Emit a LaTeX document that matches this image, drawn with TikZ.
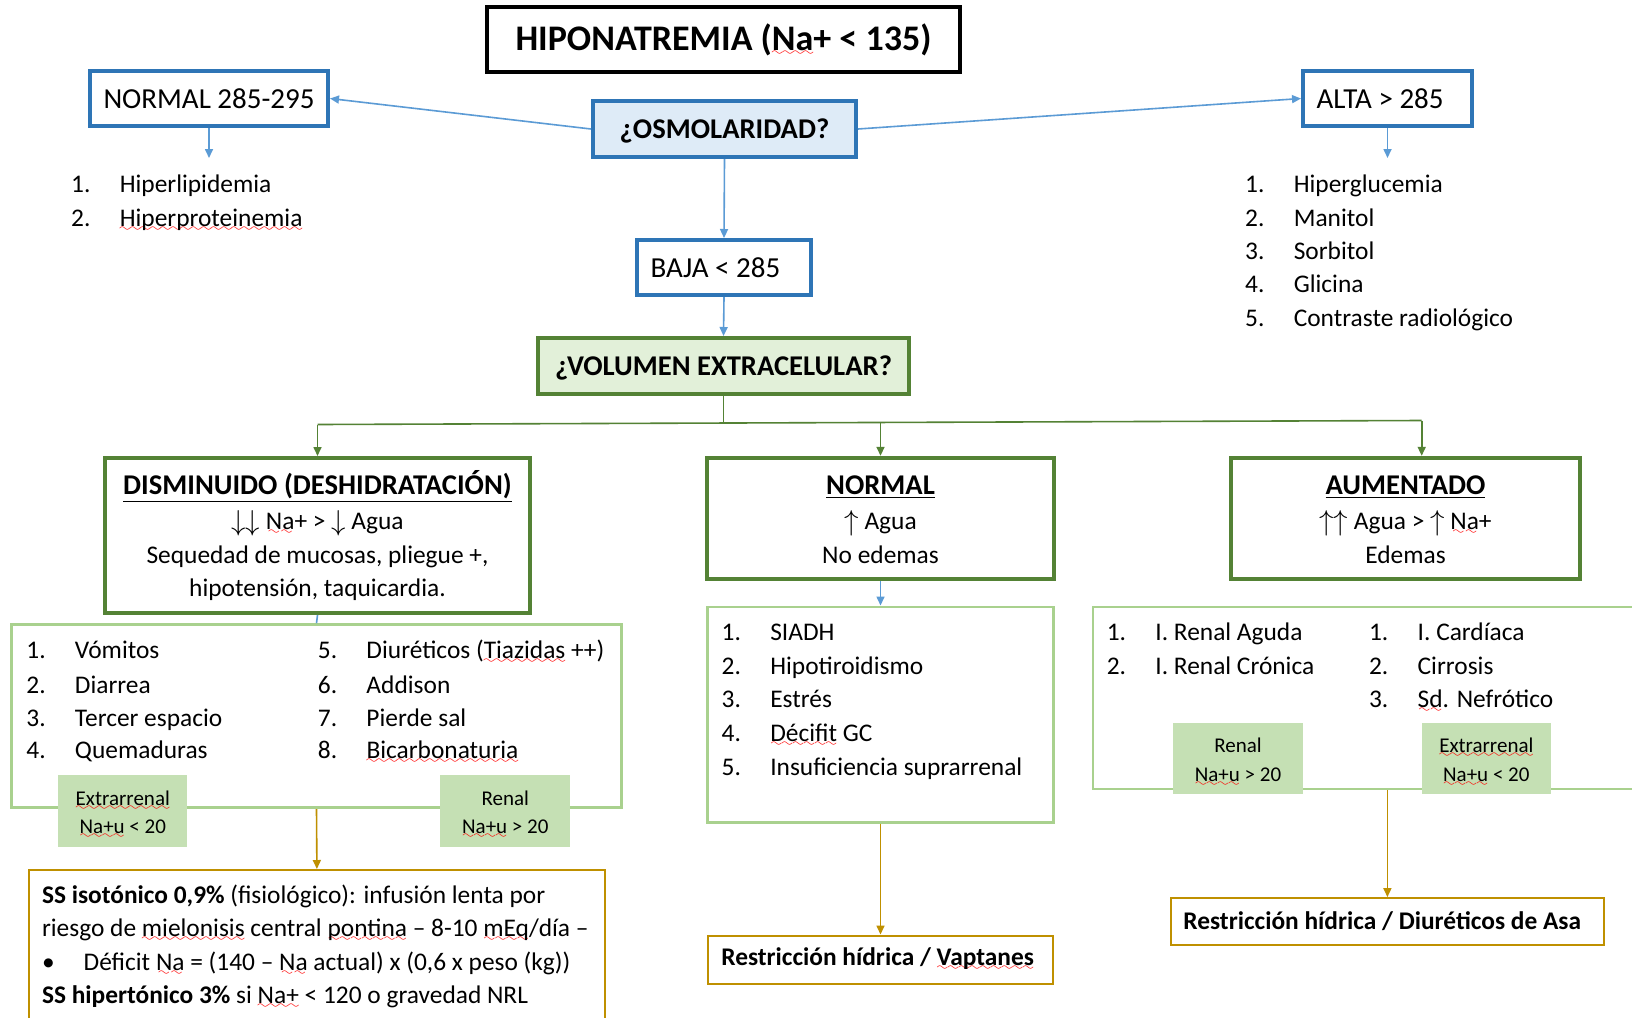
\documentclass[tikz,border=0pt]{standalone}
\usepackage{fontspec}
\setmainfont{Carlito}
\usetikzlibrary{arrows.meta}
\definecolor{boxblue}{HTML}{2E75B6}
\definecolor{osmofill}{HTML}{DEEBF7}
\definecolor{arrblue}{HTML}{5B9BD5}
\definecolor{boxgreen}{HTML}{548235}
\definecolor{volfill}{HTML}{E2F0D9}
\definecolor{lightgreen}{HTML}{A9D18E}
\definecolor{labelgreen}{HTML}{C5E0B4}
\definecolor{gold}{HTML}{BF9000}
\font\wavefont=lasy6
\newcommand\sq[1]{\setbox0\hbox{#1}\rlap{\lower2.5pt\hbox to\wd0{\color{red}\xleaders\hbox{\wavefont\char58}\hfil}}\box0\relax}
\newcommand\nm[1]{\makebox[24.3pt][l]{#1}}
\newcommand\dn{\raisebox{-0.5pt}{\scalebox{1.2}{$\downarrow$}}}
\newcommand\up{\raisebox{-0.5pt}{\scalebox{1.2}{$\uparrow$}}}
\newcommand\lstrut{\rule{0pt}{10.5pt}}
\tikzset{
  basetxt/.style={inner sep=0pt, text height=10pt, text depth=0.7pt},
  li/.style={basetxt, anchor=west, font=\fontsize{12.7pt}{15pt}\selectfont},
  ct/.style={basetxt, anchor=center, font=\fontsize{12.7pt}{15pt}\selectfont},
  hd/.style={basetxt, anchor=center, font=\fontsize{14.3pt}{16pt}\selectfont\bfseries},
  bluebox/.style={draw=boxblue, line width=2pt, fill=white, font=\fontsize{14.5pt}{16pt}\selectfont},
  greenbox/.style={draw=boxgreen, line width=2pt, fill=white},
  listbox/.style={draw=lightgreen, line width=1.3pt},
  lbl/.style={fill=labelgreen, align=center, font=\fontsize{10.5pt}{14.3pt}\selectfont, inner sep=0pt},
  goldbox/.style={draw=gold, line width=1pt},
  bluearr/.style={draw=arrblue, line width=0.8pt, -{Triangle[length=4.5pt,width=4pt]}},
  greenln/.style={draw=boxgreen, line width=0.8pt},
  greenarr/.style={greenln, -{Triangle[length=4.5pt,width=4pt]}},
  goldarr/.style={draw=gold, line width=0.8pt, -{Triangle[length=4.5pt,width=4pt]}},
}
\begin{document}
\begin{tikzpicture}[x=0.5pt,y=-0.5pt]
\useasboundingbox (0,0) rectangle (1632,1017);
\clip (0,0) rectangle (1632,1017);
\fill[white] (0,0) rectangle (1632,1017);

% top level
\node[draw=black, line width=2.1pt, minimum width=236.5pt, minimum height=32.5pt, inner sep=0pt, text height=14pt, text depth=3.4pt,
      font=\fontsize{18pt}{20pt}\selectfont\bfseries] (title) at (723.5,39.5) {HIPONATREMIA (\sq{Na}+ < 135)};
\node[bluebox, fill=osmofill, minimum width=131.5pt, minimum height=28pt, inner sep=0pt, text height=10pt, text depth=0.8pt,
      font=\fontsize{14.3pt}{16pt}\selectfont\bfseries] (osmo) at (724.5,129) {¿OSMOLARIDAD?};
\node[bluebox, minimum height=27.5pt, inner xsep=6.75pt, inner ysep=0pt] (n285) at (209,98.5) {\makebox[105.5pt][l]{NORMAL 285-295}};
\node[bluebox, minimum height=27.5pt, inner xsep=6.75pt, inner ysep=0pt] (alta) at (1387.5,98.5) {\makebox[71pt][l]{ALTA > 285}};
\node[bluebox, minimum height=27.5pt, inner xsep=6.75pt, inner ysep=0pt] (baja) at (724,267.5) {\makebox[73.5pt][l]{BAJA < 285}};
\node[draw=boxgreen, line width=2pt, fill=volfill, minimum width=185.5pt, minimum height=28pt, inner sep=0pt, text height=10pt, text depth=0.8pt,
      font=\fontsize{14.3pt}{16pt}\selectfont\bfseries] (vol) at (723.5,366) {¿VOLUMEN EXTRACELULAR?};

\draw[bluearr] (osmo.west) -- (n285.east);
\draw[bluearr] (osmo.east) -- (alta.west);
\draw[bluearr] (osmo.south) -- (baja.north);
\draw[bluearr] (baja.south) -- (vol.north);
\coordinate (n285t) at (209,158);
\coordinate (altat) at (1387.5,158);
\draw[bluearr] (n285.south) -- (n285t);
\draw[bluearr] (alta.south) -- (altat);

% top lists
\node[li] (hl1) at (70.8,183.2) {\nm{1.}Hiperlipidemia};
\node[li] (hl2) at (70.8,217.5) {\nm{2.}\sq{Hiperproteinemia}};
\node[li] (hr1) at (1244.8,183.2) {\nm{1.}Hiperglucemia};
\node[li] (hr2) at (1244.8,217.5) {\nm{2.}Manitol};
\node[li] (hr3) at (1244.8,249.8) {\nm{3.}Sorbitol};
\node[li] (hr4) at (1244.8,283.1) {\nm{4.}Glicina};
\node[li] (hr5) at (1244.8,317.4) {\nm{5.}Contraste radiológico};

% volume boxes
\node[greenbox, minimum width=212.5pt, minimum height=77.5pt] (dism) at (317.5,535.5) {};
\node[greenbox, minimum width=173.5pt, minimum height=60.5pt] (normv) at (880.5,518.3) {};
\node[greenbox, minimum width=174.5pt, minimum height=60.5pt] (aum) at (1405.5,518.3) {};

\node[hd] (dh) at (317.5,485) {\underline{DISMINUIDO (DESHIDRATACIÓN)}};
\node[ct] (d2) at (317.5,520.4) {\dn\dn\ \sq{Na}+ > \dn\ Agua};
\node[ct] (d3) at (317.5,553.7) {Sequedad de mucosas, pliegue +,};
\node[ct] (d4) at (317.5,587) {hipotensión, taquicardia.};
\node[hd] (nh) at (880.5,485) {\underline{NORMAL}};
\node[ct] (n2) at (880.5,520.4) {\up\ Agua};
\node[ct] (n3) at (880.5,553.7) {No edemas};
\node[hd] (ah) at (1405.5,485) {\underline{AUMENTADO}};
\node[ct] (a2) at (1405.5,520.4) {\up\up\ Agua > \up\ \sq{Na}+};
\node[ct] (a3) at (1405.5,553.7) {Edemas};

\coordinate (jv) at (723.5,423.2);
\coordinate (jl) at (317.5,424.5);
\coordinate (jm) at (880.5,422.5);
\coordinate (jr) at (1421.7,420.5);
\draw[greenln] (vol.south) -- (jv);
\draw[greenln] (jl) -- (jr);
\draw[greenarr] (jl) -- (dism.north);
\draw[greenarr] (jm) -- (normv.north);
\draw[greenarr] (jr) -- (jr |- aum.north);

% lists
\node[listbox, minimum width=305pt, minimum height=91.6pt] (list1) at (316.5,716.1) {};
\node[listbox, minimum width=172.8pt, minimum height=107.7pt] (list2) at (880.5,714.5) {};
\node[listbox, minimum width=283.6pt, minimum height=91.1pt] (list3) at (1376.4,697.9) {};
\draw[draw=arrblue, line width=0.8pt] (dism.south) -- (list1.north);
\draw[bluearr] (normv.south) -- (list2.north);

\node[li] (l1a) at (26,649.5) {\nm{1.}Vómitos};
\node[li] (l1b) at (26,683.8) {\nm{2.}Diarrea};
\node[li] (l1c) at (26,717.1) {\nm{3.}Tercer espacio};
\node[li] (l1d) at (26,749.4) {\nm{4.}Quemaduras};
\node[li] (l1e) at (317.5,649.5) {\nm{5.}Diuréticos (\sq{Tiazidas} ++)};
\node[li] (l1f) at (317.5,683.8) {\nm{6.}Addison};
\node[li] (l1g) at (317.5,717.1) {\nm{7.}Pierde sal};
\node[li] (l1h) at (317.5,749.4) {\nm{8.}\sq{Bicarbonaturia}};
\node[lbl, minimum width=64.5pt, minimum height=36pt] (ex1) at (122.8,811.3) {\lstrut\sq{Extrarrenal}\\\sq{Na+u} < 20};
\node[lbl, minimum width=65pt, minimum height=36pt] (re1) at (505.3,811.3) {\lstrut Renal\\\sq{Na+u} > 20};

\node[li] (l2a) at (721.3,630.7) {\nm{1.}SIADH};
\node[li] (l2b) at (721.3,665.1) {\nm{2.}Hipotiroidismo};
\node[li] (l2c) at (721.3,698.4) {\nm{3.}Estrés};
\node[li] (l2d) at (721.3,731.7) {\nm{4.}\sq{Décifit} GC};
\node[li] (l2e) at (721.3,766) {\nm{5.}Insuficiencia suprarrenal};

\node[li] (l3a) at (1106.4,630.7) {\nm{1.}I. Renal Aguda};
\node[li] (l3b) at (1106.4,665.1) {\nm{2.}I. Renal Crónica};
\node[li] (l3c) at (1368.7,630.7) {\nm{1.}I. Cardíaca};
\node[li] (l3d) at (1368.7,665.1) {\nm{2.}Cirrosis};
\node[li] (l3e) at (1368.7,698.4) {\nm{3.}\sq{Sd}. Nefrótico};
\node[lbl, minimum width=65pt, minimum height=35.4pt] (re3) at (1238,758.7) {\lstrut Renal\\\sq{Na+u} > 20};
\node[lbl, minimum width=64.5pt, minimum height=35.4pt] (ex3) at (1486.3,758.7) {\lstrut\sq{Extrarrenal}\\\sq{Na+u} < 20};

% treatments
\node[goldbox, minimum width=287.8pt, minimum height=80pt] (t1) at (316.9,950) {};
\node[goldbox, minimum height=24pt, inner xsep=6.8pt, inner ysep=0pt,
      font=\fontsize{12.7pt}{15pt}\selectfont\bfseries] (t2) at (880.5,959.5) {\makebox[159.2pt][l]{Restricción hídrica / \sq{Vaptanes}}};
\node[goldbox, minimum height=23.4pt, inner xsep=6.25pt, inner ysep=0pt,
      font=\fontsize{12.7pt}{15pt}\selectfont\bfseries] (t3) at (1387.4,921.5) {\makebox[204pt][l]{Restricción hídrica / Diuréticos de Asa}};

\node[li] (t1a) at (41.6,894) {\textbf{SS isotónico 0,9\%} (fisiológico): infusión lenta por};
\node[li] (t1b) at (41.6,927.4) {riesgo de \sq{mielonisis} central \sq{pontina} – 8-10 \sq{mEq}/día –};
\node[li] (t1c) at (41.6,960.7) {\makebox[20.85pt][l]{•}Déficit \sq{Na} = (140 – \sq{Na} actual) x (0,6 x peso (kg))};
\node[li] (t1d) at (41.6,994) {\textbf{SS hipertónico 3\%} si \sq{Na+} < 120 o gravedad NRL};

\draw[goldarr] (list1.south) -- (t1.north);
\draw[goldarr] (list2.south) -- (t2.north);
\draw[goldarr] (t3.north |- list3.south) -- (t3.north);
\end{tikzpicture}
\end{document}
